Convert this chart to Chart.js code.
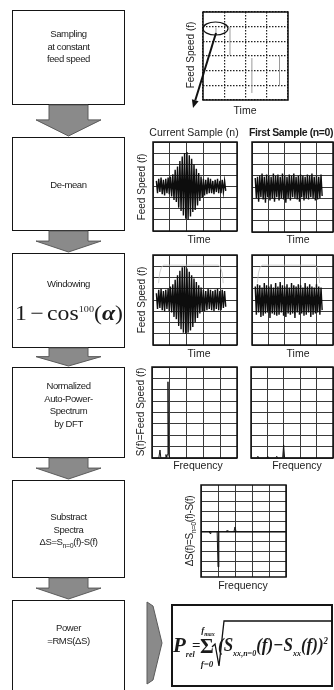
<!DOCTYPE html>
<html lang="en">
<head>
<meta charset="utf-8">
<title>Feed speed monitoring</title>
<script src="https://cdn.jsdelivr.net/npm/chart.js@4.4.1/dist/chart.umd.min.js"></script>
<style>
  body { margin: 0; width: 334px; height: 690px; overflow: hidden; position: relative; background: #fff;
         font-family: "Liberation Sans", Arial, sans-serif; color: #1b1b1b; }
  .box { position: absolute; left: 12px; width: 113px; border: 1.5px solid #151515; box-sizing: border-box; }
  .txt { position: absolute; white-space: nowrap; }
  .boxtxt { left: 12px; width: 113px; text-align: center; font-size: 9.5px; letter-spacing: -0.4px; line-height: 12.5px; }
  canvas { position: absolute; }
  svg { position: absolute; left: 0; top: 0; }
  sub, sup { line-height: 0; }
</style>
</head>
<body>
<div class="box" style="top:10px;height:95px"></div>
<div class="box" style="top:137px;height:94px"></div>
<div class="box" style="top:253px;height:95px"></div>
<div class="box" style="top:367px;height:91px"></div>
<div class="box" style="top:480px;height:98px"></div>
<div class="box" style="top:600px;height:100px"></div>
<div class="box" style="left:171px;top:604px;width:162px;height:83px;border-width:2px"></div>
<svg id="shapes" width="334" height="690"></svg>
<script>
// rejillas (ticks)
const colsSample = [0, 1, 2, 3, 4];
const rowsSample = [0, 1, 2, 3, 4, 5, 6];
const cols = [0, 1, 2, 3, 4, 5];
const rowsSignal = [-4, -3, -2, -1, 0, 1, 2, 3, 4];
const rowsSpectrum = [0, 1, 2, 3, 4, 5, 6, 7, 8];
const rowsDelta = [-4, -3, -2, -1, 0, 1, 2, 3, 4];

// muestreo a velocidad constante
const pulseTime = [0.61, 1.27, 2.3, 3.6];
const pulseLow = [4.43, 3.07, 0.48, 1.02];
const pulseHigh = [4.9, 4.98, 2.86, 3.07];

// señales en el tiempo (muestra actual n / primera muestra n=0)
const T0 = 0.2, DT = 0.07;
const demeanN = [
  0.5, -0.6, 0.7, -0.5, 0.8, -0.7, 0.6, -0.8, 0.7, -0.6,
  0.8, -0.7, 0.9, -0.9, 1.1, -1.2, 1.5, -1.4, 1.8, -1.9,
  2.3, -2.2, 2.7, -2.6, 3.0, -2.9, 3.1, -3.0, 2.8, -2.7,
  2.5, -2.3, 2.0, -2.1, 1.6, -1.7, 1.2, -1.3, 0.9, -1.0,
  0.7, -0.8, 0.6, -0.7, 0.8, -0.6, 0.7, -0.6, 0.5, -0.7,
  0.6, -0.5, 0.7, -0.6, 0.5, -0.6, 0.6, -0.5, 0.5, -0.4
];
const demean0 = [
  0.8, -1.0, 0.9, -1.3, 1.0, -0.9, 1.2, -1.1, 0.9, -1.4,
  1.1, -0.9, 1.0, -1.2, 0.9, -1.0, 1.2, -1.3, 1.0, -0.9,
  1.1, -1.2, 0.9, -1.0, 1.2, -1.1, 1.0, -1.4, 0.9, -1.0,
  1.1, -1.2, 1.0, -0.9, 1.2, -1.0, 0.9, -1.1, 1.0, -1.3,
  1.1, -0.9, 1.0, -1.2, 0.9, -1.0, 1.1, -1.1, 1.0, -0.9,
  1.2, -1.0, 0.9, -1.2, 1.0, -1.1, 0.9, -1.0, 1.1, -0.8
];
const windowedN = [
  0.6, -0.8, 0.9, -0.7, 1.0, -0.9, 0.8, -1.0, 0.9, -0.8,
  1.0, -1.0, 1.2, -1.1, 1.4, -1.5, 1.8, -1.7, 2.2, -2.3,
  2.6, -2.6, 2.9, -2.9, 3.0, -3.0, 2.8, -2.9, 2.5, -2.7,
  2.2, -2.4, 1.9, -2.0, 1.6, -1.6, 1.3, -1.2, 1.1, -1.0,
  0.9, -1.0, 0.8, -0.9, 1.0, -0.8, 0.9, -0.9, 0.8, -1.0,
  0.9, -0.8, 1.0, -0.9, 0.8, -0.9, 0.9, -0.7, 0.8, -0.6
];
const windowed0 = [
  1.2, -1.3, 1.4, -1.1, 1.3, -1.5, 1.1, -1.4, 1.5, -1.2,
  1.3, -1.1, 1.2, -1.6, 1.4, -1.2, 1.1, -1.3, 1.5, -1.4,
  1.2, -1.3, 1.6, -1.1, 1.3, -1.4, 1.2, -1.5, 1.4, -1.2,
  1.1, -1.3, 1.5, -1.2, 1.3, -1.6, 1.2, -1.1, 1.4, -1.3,
  1.3, -1.2, 1.1, -1.4, 1.5, -1.3, 1.2, -1.1, 1.4, -1.5,
  1.2, -1.3, 1.1, -1.2, 1.4, -1.1, 1.2, -1.3, 1.1, -0.9
];
// ventana 1-cos^100
const windowTime = [0.33, 0.4, 0.5, 0.62, 3.9, 4.02, 4.12, 4.18];
const windowLevel = [1.5, 2.4, 2.9, 3.1, 3.1, 2.9, 2.4, 1.5];

// espectros
const specFreqN = [0, 0.4, 0.47, 0.52, 0.77, 0.82, 0.87, 0.9, 0.94, 0.98, 1.04, 5];
const specN = [0, 0, 0.7, 0, 0, 0.3, 0.05, 0.3, 6.7, 0.3, 0, 0];
const specFreq0 = [0, 0.36, 0.42, 0.47, 0.96, 1.02, 1.07, 1.51, 1.57, 1.62, 1.93, 1.99, 2.05, 5];
const spec0 = [0, 0, 0.15, 0, 0, 0.15, 0, 0, 0.15, 0, 0, 1.15, 0, 0];
const deltaFreq = [0, 0.48, 0.53, 0.58, 0.95, 1.0, 1.05, 1.48, 1.53, 1.58, 1.94, 2.0, 2.06, 5];
const deltaS = [0, 0, -0.2, 0, 0, -3.5, 0, 0, 0.1, 0, 0, 0.45, 0, 0];


// marco negro alrededor del area del grafico
const frame = {
    id: "frame",
    afterDraw(chart) {
        const a = chart.chartArea, ctx = chart.ctx;
        ctx.save();
        ctx.strokeStyle = "#111";
        ctx.lineWidth = 1.5;
        ctx.strokeRect(a.left, a.top, a.right - a.left, a.bottom - a.top);
        ctx.restore();
    }
};

function axis(ticks, min, max, opts) {
    opts = opts || {};
    return {
        type: "linear", min: min, max: max,
        afterBuildTicks: (s) => { s.ticks = ticks.map((v) => ({ value: v })); },
        ticks: { display: false },
        grid: {
            color: opts.color || "#3a3a3a",
            lineWidth: opts.width || 1,
            drawTicks: false
        },
        border: { display: false, dash: opts.dash || [] }
    };
}

function line(xs, ys, color, width) {
    return {
        data: xs.map((x, i) => ({ x: x, y: ys[i] })),
        borderColor: color, borderWidth: width,
        pointRadius: 0, tension: 0, fill: false
    };
}

function signal(values) {
    return line(values.map((_, i) => T0 + i * DT), values, "#0d0d0d", 1.4);
}

function addChart(x, y, w, h, datasets, scales) {
    const c = document.createElement("canvas");
    c.width = w + 4;
    c.height = h + 4;
    c.style.left = (x - 2) + "px";
    c.style.top = (y - 2) + "px";
    document.body.insertBefore(c, document.getElementById("shapes"));
    return new Chart(c.getContext("2d"), {
        type: "line",
        data: { datasets: datasets },
        options: {
            animation: false, responsive: false, events: [],
            layout: { padding: 2 },
            plugins: { legend: { display: false }, tooltip: { enabled: false } },
            scales: scales
        },
        plugins: [frame]
    });
}

// muestreo
const pulses = pulseTime.flatMap((t, i) => [
    { x: t, y: pulseLow[i] }, { x: t, y: pulseHigh[i] }, { x: t, y: null }
]);
addChart(203, 12, 85, 88,
    [{ data: pulses, borderColor: "#9a9a9a", borderWidth: 1, pointRadius: 0, spanGaps: false }],
    { x: axis(colsSample, 0, 4, { dash: [1.5, 1.5], color: "#222", width: 1.2 }),
      y: axis(rowsSample, 0, 6, { dash: [1.5, 1.5], color: "#222", width: 1.2 }) });

// de-mean
addChart(153, 142, 84, 89, [signal(demeanN)],
    { x: axis(cols, 0, 5), y: axis(rowsSignal, -4, 4) });
addChart(252, 142, 81, 90, [signal(demean0)],
    { x: axis(cols, 0, 5), y: axis(rowsSignal, -4, 4) });

// windowing
addChart(153, 255, 84, 90,
    [line(windowTime, windowLevel, "#c4c4c4", 0.8), signal(windowedN)],
    { x: axis(cols, 0, 5), y: axis(rowsSignal, -4, 4) });
addChart(252, 255, 81, 90,
    [line(windowTime, windowLevel, "#c4c4c4", 0.8), signal(windowed0)],
    { x: axis(cols, 0, 5), y: axis(rowsSignal, -4, 4) });

// espectros
addChart(152, 367, 85, 91, [line(specFreqN, specN, "#151515", 1)],
    { x: axis(cols, 0, 5), y: axis(rowsSpectrum, 0, 8) });
addChart(251, 367, 82, 91, [line(specFreq0, spec0, "#151515", 1)],
    { x: axis(cols, 0, 5), y: axis(rowsSpectrum, 0, 8) });

// diferencia de espectros
const yDelta = axis(rowsDelta, -4.5, 4.6);
yDelta.grid.color = (c) => (c.tick && c.tick.value === 0 ? "#000" : "#3a3a3a");
yDelta.grid.lineWidth = (c) => (c.tick && c.tick.value === 0 ? 1.6 : 1);
addChart(201, 485, 85, 92, [line(deltaFreq, deltaS, "#151515", 1)],
    { x: axis(cols, 0, 5), y: yDelta });


// textos
function text(html, cx, cy, style, rot) {
    const d = document.createElement("div");
    d.className = "txt";
    d.innerHTML = html;
    d.style.cssText += "left:" + cx + "px;top:" + cy + "px;" + (style || "");
    d.style.transform = "translate(-50%,-50%)" + (rot ? " rotate(-90deg)" : "");
    document.body.appendChild(d);
    return d;
}

// texto alineado a la izquierda, opcionalmente ajustado a un ancho
function textL(html, left, cy, style, w) {
    const d = text(html, left, cy, style);
    d.style.transformOrigin = "left center";
    d.style.transform = "translateY(-50%)";
    if (w) {
        const k = w / d.getBoundingClientRect().width;
        d.style.transform = "translateY(-50%) scaleX(" + k + ")";
    }
    return d;
}

function boxText(html, cy) {
    const d = document.createElement("div");
    d.className = "txt boxtxt";
    d.innerHTML = html;
    d.style.top = cy + "px";
    d.style.transform = "translateY(-50%)";
    document.body.appendChild(d);
}

boxText("Sampling<br>at constant<br>feed speed", 47);
boxText("De-mean", 185);
boxText("Windowing", 284);
boxText("Normalized<br>Auto-Power-<br>Spectrum<br>by DFT", 405);
boxText("Substract<br>Spectra<br>&Delta;S=S<sub style='font-size:7px'>n=0</sub>(f)-S(f)", 530);
boxText("Power<br>=RMS(&Delta;S)", 634);

textL("1<span style='margin:0 3px'>&minus;</span>cos<sup style='font-size:9px'>100</sup>(<i style='font-weight:bold'>&alpha;</i>)",
    15, 313, "font-family:'Liberation Serif',serif;font-size:21px;", 108);

const lab = "font-size:10px;";
text("Feed Speed (f)", 190, 55, lab, true);
text("Time", 245, 110, "font-size:10.5px;");
text("Current Sample (n)", 194, 132, "font-size:10.5px;");
textL("First Sample (n=0)", 249, 132, "font-size:10.5px;font-weight:bold;letter-spacing:-0.4px;");
text("Feed Speed (f)", 141, 187, lab, true);
text("Time", 199, 239, "font-size:10.5px;");
text("Time", 298, 239, "font-size:10.5px;");
text("Feed Speed (f)", 141, 300, lab, true);
text("Time", 199, 353, "font-size:10.5px;");
text("Time", 298, 353, "font-size:10.5px;");
text("S(f)=Feed Speed (f)", 140, 412, lab, true);
text("Frequency", 198, 465, "font-size:10.5px;");
text("Frequency", 297, 465, "font-size:10.5px;");
text("&Delta;S(f)=S<sub style='font-size:7px'>n=0</sub>(f)-S(f)", 189, 531, lab + "letter-spacing:-0.3px;", true);
text("Frequency", 243, 585, "font-size:10.5px;");

// formula de potencia
const mf = "font-family:'Liberation Serif',serif;font-weight:bold;font-style:italic;";
textL("P<sub style='font-size:8px'>rel</sub>", 173, 645, mf + "font-size:21px;");
textL("=", 192, 645, mf + "font-size:15px;font-style:normal;");
textL("&Sigma;", 200, 646, mf + "font-size:21px;font-style:normal;");
text("f<sub style='font-size:6px'>max</sub>", 208, 630, mf + "font-size:9px;");
text("f=0", 207, 664, mf + "font-size:9px;");
textL("(S<sub style='font-size:9px'>xx,n=0</sub>(f)&minus;S<sub style='font-size:9px'>xx</sub>(f))<sup style='font-size:10px'>2</sup>",
    218, 645, mf + "font-size:19px;", 110);

// flechas y anotaciones
function downArrow(y0, y1) {
    const ym = y0 + (y1 - y0) * 0.48;
    return "<polygon points='49," + y0 + " 88," + y0 + " 88," + ym + " 101," + ym + " 68.5," + y1 +
        " 36," + ym + " 49," + ym + "' fill='#8a8a8a' stroke='#5a5a5a' stroke-width='1'/>";
}
document.getElementById("shapes").innerHTML =
    downArrow(105, 136) + downArrow(231, 252) + downArrow(348, 366) +
    downArrow(458, 479) + downArrow(578, 599) +
    "<polygon points='147,602 153,606 162,643 153,680 147,684' fill='#8a8a8a' stroke='#5a5a5a' stroke-width='1'/>" +
    "<ellipse cx='215.5' cy='28.5' rx='12.5' ry='6.5' fill='none' stroke='#111' stroke-width='1.2'/>" +
    "<line x1='216' y1='33' x2='195.3' y2='100.3' stroke='#111' stroke-width='2'/>" +
    "<polygon points='193,108 198.6,101.3 191.9,99.3' fill='#111'/>" +
    "<path d='M212,647 L215,644 L219,666 L224,621 L332,621' fill='none' stroke='#111' stroke-width='1.3'/>";
</script>
</body>
</html>
